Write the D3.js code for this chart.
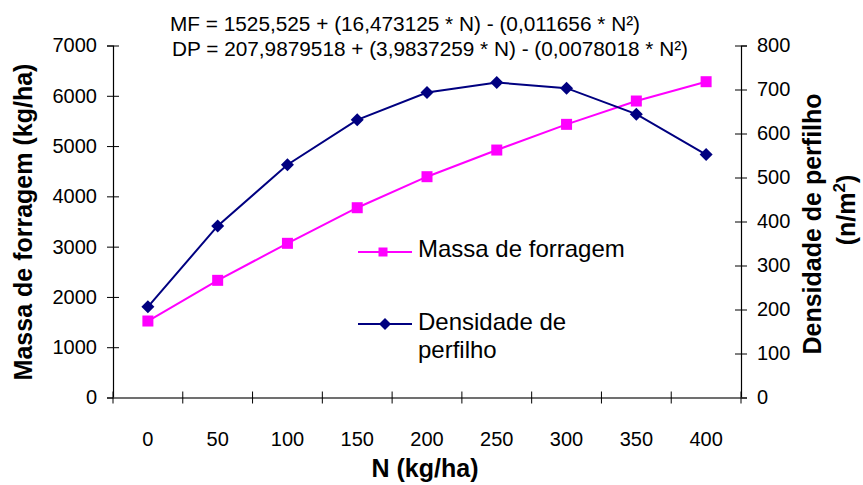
<!DOCTYPE html>
<html>
<head>
<meta charset="utf-8">
<script src="https://cdn.jsdelivr.net/npm/d3@7/dist/d3.min.js"></script>
<style>
  html, body { margin: 0; padding: 0; background: #fff; }
  svg { display: block; font-family: "Liberation Sans", Arial, sans-serif; }
</style>
</head>
<body>
<svg id="chart" width="863" height="485"></svg>
<script>
// Nitrogen doses (kg/ha)
const doses = ["0", "50", "100", "150", "200", "250", "300", "350", "400"];
// Forage mass (kg/ha) – left axis
const massaForragem = [1521, 2330, 3066, 3774, 4391, 4921, 5432, 5896, 6280];
// Tiller density (n/m²) – right axis
const densidadePerfilho = [206, 390, 529, 631, 693, 716, 703, 644, 552];
// Axis ticks
const leftTicks = [0, 1000, 2000, 3000, 4000, 5000, 6000, 7000];
const rightTicks = [0, 100, 200, 300, 400, 500, 600, 700, 800];
// Regression equations
const equacoes = [
  "MF = 1525,525 + (16,473125 * N) - (0,011656 * N\u00B2)",
  "DP = 207,9879518 + (3,9837259 * N) - (0,0078018 * N\u00B2)"
];

const svg = d3.select("#chart");
const plot = { left: 113, right: 741, top: 45.5, bottom: 397.5 };

const x = d3.scaleBand().domain(doses).range([plot.left, plot.right]).padding(0);
const yL = d3.scaleLinear().domain([0, 7000]).range([plot.bottom, plot.top]);
const yR = d3.scaleLinear().domain([0, 800]).range([plot.bottom, plot.top]);
const cx = d => x(d) + x.bandwidth() / 2;

const tickFont = 20;
const titleFont = 25;

// Left axis (cross ticks)
const gL = svg.append("g").attr("transform", `translate(${plot.left},0)`)
  .call(d3.axisLeft(yL).tickValues(leftTicks).tickSize(6).tickPadding(10).tickFormat(d3.format("d")));
gL.select(".domain").attr("stroke", "#000").attr("stroke-width", 1.2);
gL.selectAll(".tick line").attr("x1", 6).attr("stroke", "#000");
gL.selectAll(".tick text").attr("font-size", tickFont).attr("fill", "#000")
  .attr("font-family", "Liberation Sans, Arial, sans-serif");

// Right axis (cross ticks)
const gR = svg.append("g").attr("transform", `translate(${plot.right},0)`)
  .call(d3.axisRight(yR).tickValues(rightTicks).tickSize(6).tickPadding(10).tickFormat(d3.format("d")));
gR.select(".domain").attr("stroke", "#000").attr("stroke-width", 1.2);
gR.selectAll(".tick line").attr("x1", -6).attr("stroke", "#000");
gR.selectAll(".tick text").attr("font-size", tickFont).attr("fill", "#000")
  .attr("font-family", "Liberation Sans, Arial, sans-serif");

// Bottom axis: labels at category centres, ticks on category boundaries
const gX = svg.append("g").attr("transform", `translate(0,${plot.bottom})`)
  .call(d3.axisBottom(x).tickSize(0).tickPadding(34));
gX.select(".domain").attr("stroke", "#707070").attr("stroke-width", 2);
gX.selectAll(".tick text").attr("font-size", tickFont).attr("fill", "#000")
  .attr("font-family", "Liberation Sans, Arial, sans-serif");
const bounds = doses.map(d => x(d)).concat([x.range()[1]]);
gX.selectAll("line.bound").data(bounds).enter().append("line")
  .attr("class", "bound")
  .attr("x1", d => d).attr("x2", d => d)
  .attr("y1", -6).attr("y2", 6)
  .attr("stroke", "#000").attr("stroke-width", 1);

// Series lines
const lineL = d3.line().x((d, i) => cx(doses[i])).y(d => yL(d));
const lineR = d3.line().x((d, i) => cx(doses[i])).y(d => yR(d));

svg.append("path").datum(massaForragem).attr("d", lineL)
  .attr("fill", "none").attr("stroke", "#FF00FF").attr("stroke-width", 2);
svg.append("path").datum(densidadePerfilho).attr("d", lineR)
  .attr("fill", "none").attr("stroke", "#000080").attr("stroke-width", 2);

// Markers
const sq = 11;
svg.selectAll("rect.mf").data(massaForragem).enter().append("rect")
  .attr("class", "mf")
  .attr("x", (d, i) => cx(doses[i]) - sq / 2)
  .attr("y", d => yL(d) - sq / 2)
  .attr("width", sq).attr("height", sq)
  .attr("fill", "#FF00FF");

const diamond = (px, py, r) => `M${px},${py - r}L${px + r},${py}L${px},${py + r}L${px - r},${py}Z`;
svg.selectAll("path.dp").data(densidadePerfilho).enter().append("path")
  .attr("class", "dp")
  .attr("d", (d, i) => diamond(cx(doses[i]), yR(d), 6.5))
  .attr("fill", "#000080");

// Legend
const lg = svg.append("g");
lg.append("line").attr("x1", 358).attr("x2", 412).attr("y1", 252).attr("y2", 252)
  .attr("stroke", "#FF00FF").attr("stroke-width", 2);
lg.append("rect").attr("x", 383 - 4.5).attr("y", 252 - 4.5).attr("width", 9).attr("height", 9)
  .attr("fill", "#FF00FF");
lg.append("text").attr("x", 418).attr("y", 257).attr("font-size", 24).attr("fill", "#000")
  .text("Massa de forragem");

lg.append("line").attr("x1", 358).attr("x2", 412).attr("y1", 324).attr("y2", 324)
  .attr("stroke", "#000080").attr("stroke-width", 2);
lg.append("path").attr("d", diamond(385, 324, 6)).attr("fill", "#000080");
lg.append("text").attr("x", 418).attr("y", 330).attr("font-size", 24).attr("fill", "#000")
  .text("Densidade de");
lg.append("text").attr("x", 418).attr("y", 358).attr("font-size", 24).attr("fill", "#000")
  .text("perfilho");

// Equations
svg.append("text").attr("x", 170).attr("y", 30.5).attr("font-size", 20).attr("fill", "#000")
  .attr("textLength", 470).attr("lengthAdjust", "spacingAndGlyphs")
  .text(equacoes[0]);
svg.append("text").attr("x", 172).attr("y", 56).attr("font-size", 20).attr("fill", "#000")
  .attr("textLength", 516).attr("lengthAdjust", "spacingAndGlyphs")
  .text(equacoes[1]);

// Axis titles
svg.append("text").attr("x", 425).attr("y", 477).attr("text-anchor", "middle")
  .attr("font-size", titleFont).attr("font-weight", "bold").attr("fill", "#000")
  .text("N (kg/ha)");

svg.append("text").attr("transform", "translate(23,222) rotate(-90)")
  .attr("text-anchor", "middle").attr("dy", "0.35em")
  .attr("font-size", titleFont).attr("font-weight", "bold").attr("fill", "#000")
  .text("Massa de forragem (kg/ha)");

svg.append("text").attr("transform", "translate(812,224) rotate(-90)")
  .attr("text-anchor", "middle").attr("dy", "0.35em")
  .attr("font-size", titleFont).attr("font-weight", "bold").attr("fill", "#000")
  .text("Densidade de perfilho");

const t2 = svg.append("text").attr("transform", "translate(846,210) rotate(-90)")
  .attr("text-anchor", "middle").attr("dy", "0.35em")
  .attr("font-size", titleFont).attr("font-weight", "bold").attr("fill", "#000");
t2.append("tspan").text("(n/m");
t2.append("tspan").attr("font-size", 17).attr("dy", "-0.6em").text("2");
t2.append("tspan").attr("dy", "0.4em").text(")");
</script>
</body>
</html>
